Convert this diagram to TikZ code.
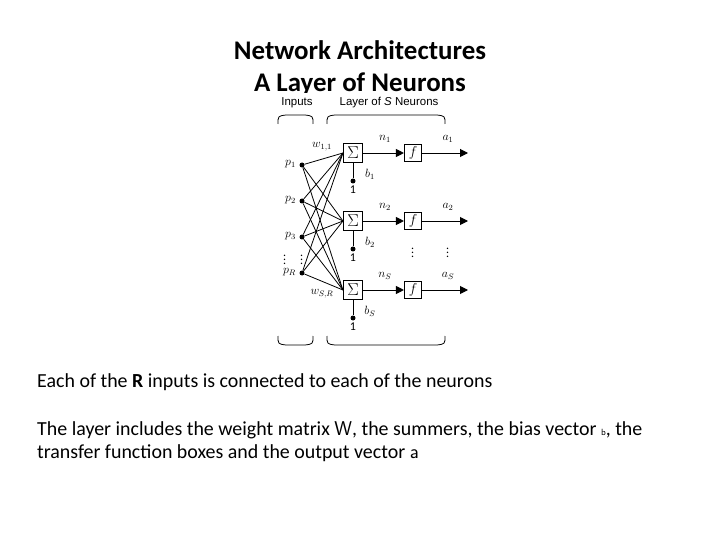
\documentclass[tikz,border=0pt]{standalone}
\usepackage{fontspec}
\setmainfont{Carlito}
\newfontfamily\dia{Liberation Sans}
\usetikzlibrary{arrows.meta}
\begin{document}
\begin{tikzpicture}[x=1bp,y=-1bp,
  box/.style={draw,line width=1.1pt,minimum size=19bp,inner sep=0pt},
  dot/.style={circle,fill,inner sep=0pt,minimum size=5bp},
  lab/.style={font=\fontsize{12}{12}\selectfont\itshape,inner sep=0pt},
  arr/.style={line width=1pt,-{Triangle[length=8bp,width=8bp]}},
  ln/.style={line width=0.8pt}]
\useasboundingbox (0,0) rectangle (720,540);
\node[font=\fontsize{27}{29}\selectfont\bfseries] (t1) at (360,50) {Network Architectures};
\node[font=\fontsize{27}{29}\selectfont\bfseries] (t2) at (360,84) {A Layer of Neurons};
\fill[white] (268,93) rectangle (472,352);
\node[font=\dia\fontsize{11.5}{11.5}\selectfont] (lin) at (297,103) {Inputs};
\node[font=\dia\fontsize{11.5}{11.5}\selectfont] (llay) at (389,103) {Layer of \textit{S} Neurons};
\draw[ln] (278,124) .. controls (278,116) .. (286,115) -- (305,115) .. controls (313,116) .. (313,124);
\draw[ln] (327,124) .. controls (327,116) .. (335,115) -- (437,115) .. controls (445,116) .. (445,124);
\draw[ln] (278,336) .. controls (278,344) .. (286,345) -- (305,345) .. controls (313,344) .. (313,336);
\draw[ln] (327,336) .. controls (327,344) .. (335,345) -- (437,345) .. controls (445,344) .. (445,336);
\foreach \i/\y/\n in {1/165/1,2/201/2,3/237/3,4/273/R}
  {\node[dot] (p\i) at (302,\y) {};
   \node[lab,anchor=east] (pl\i) at (296,\y-1) {$p_{\n}$};}
\node[lab] (vd1) at (285,257) {$\vdots$};
\node[lab] (vd2) at (302,257) {$\vdots$};
\foreach \j/\y/\s in {1/153/1,2/221/2,3/290/S}{
  \node[box,font=\fontsize{17}{17}\selectfont] (s\j) at (353,\y) {$\Sigma$};
  \node[box,minimum size=17bp,font=\fontsize{15}{15}\selectfont] (f\j) at (413,\y) {$f$};
  \coordinate (o\j) at (468,\y);
  \draw[arr] (s\j) -- (f\j);
  \draw[arr] (f\j) -- (o\j);
  \node[dot] (bd\j) at (353,\y+28) {};
  \draw[ln] (s\j.south) -- (bd\j);
  \node[font=\fontsize{12}{12}\selectfont,inner sep=0pt] (one\j) at (353,\y+37) {1};
  \node[lab] (b\j) at (370,\y+21) {$b_{\s}$};
  \node[lab] (n\j) at (385,\y-14) {$n_{\s}$};
  \node[lab] (a\j) at (448,\y-14) {$a_{\s}$};
}
\foreach \i in {1,...,4}\foreach \j in {1,2,3}{\draw[ln] (p\i) -- (s\j.west);}
\node[lab] (w11) at (322,147) {$w_{1,1}$};
\node[lab] (wsr) at (322,294) {$w_{S,R}$};
\node[lab] (vd3) at (413,250) {$\vdots$};
\node[lab] (vd4) at (448,250) {$\vdots$};
\begin{scope}[every node/.style={anchor=west,inner sep=0pt,font=\fontsize{20}{24}\selectfont}]
\node (l1) at (37,382) {Each of the \textbf{R} inputs is connected to each of the neurons};
\node (l2) at (37,430) {The layer includes the weight matrix \textsf{W}, the summers, the bias vector \textsf{\small b}, the};
\node (l3) at (37,453) {transfer function boxes and the output vector \textsf{a}};
\end{scope}
\end{tikzpicture}
\end{document}
